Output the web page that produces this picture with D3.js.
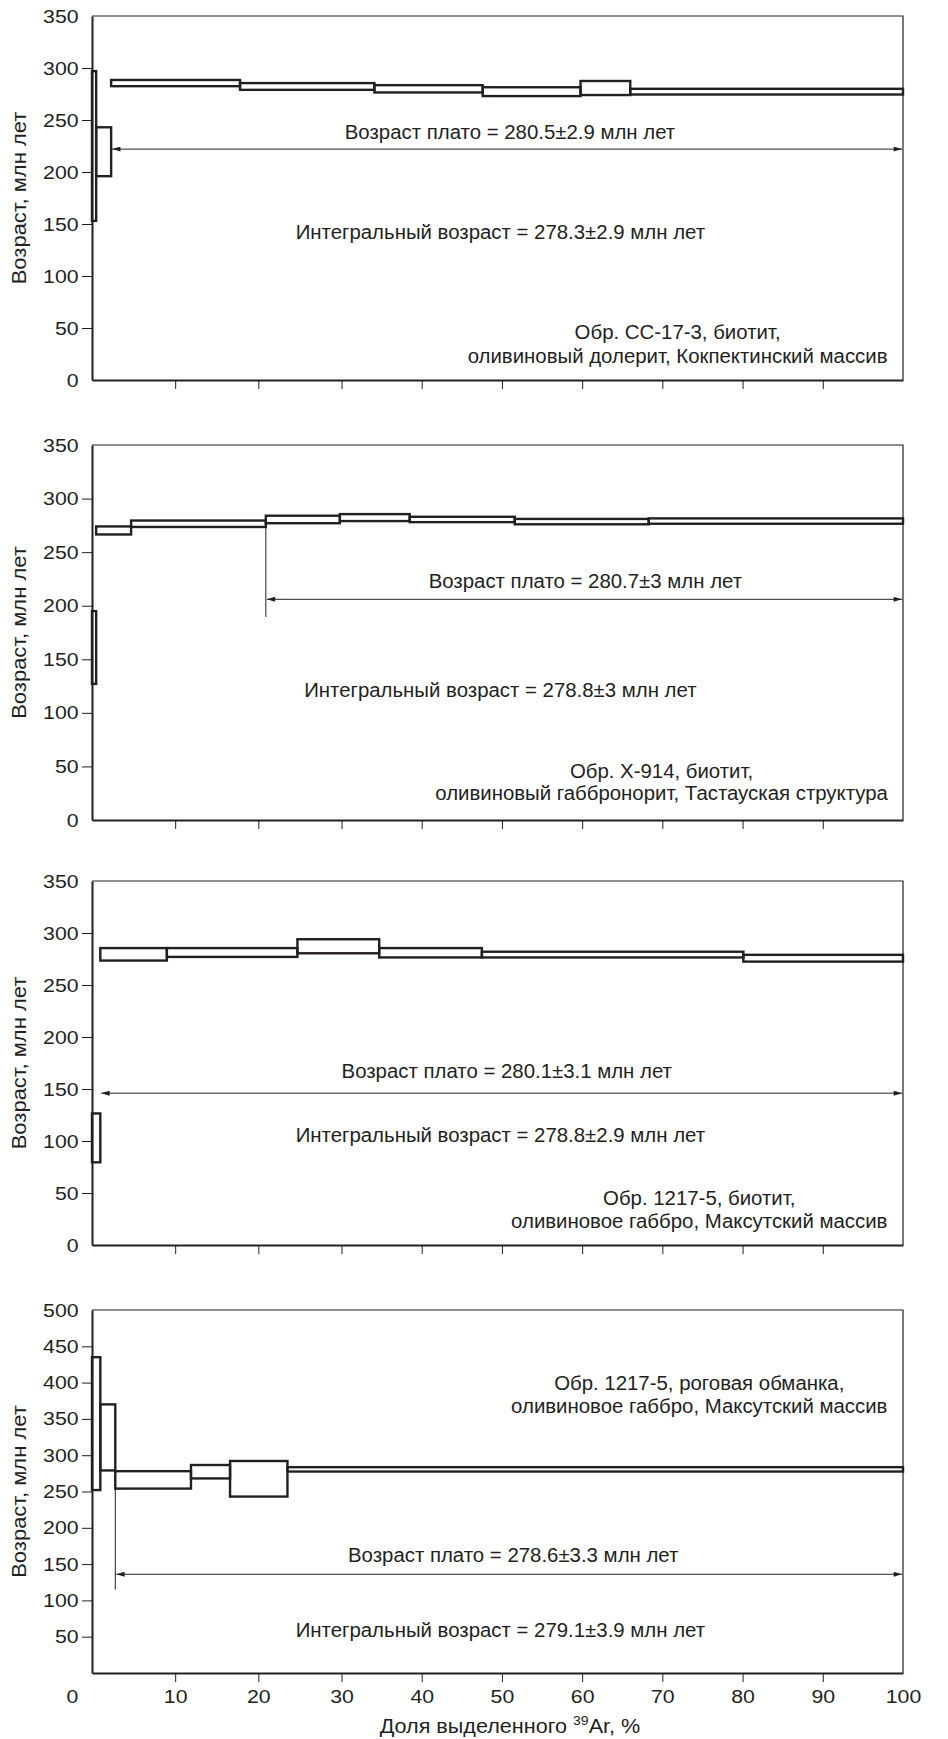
<!DOCTYPE html>
<html>
<head>
<meta charset="utf-8">
<script src="https://cdn.jsdelivr.net/npm/d3@7"></script>
<style>
  body { margin: 0; background: #fff; }
  text { font-family: "Liberation Sans", Arial, sans-serif; fill: #231f20; }
</style>
</head>
<body>
<div class="canvas"></div>
<script>
// step edges (% of 39Ar released) and upper / lower age of each step (Ma)
const edges1 = [0, 0.5, 2.3, 17.8, 34.1, 47.6, 59.8, 66.0, 100];
const hi1 = [297, 243, 288.5, 285.5, 283.5, 281.5, 287.5, 280];
const lo1 = [153, 196, 282.5, 279, 276.5, 273, 274, 274.5];

const edges2 = [0, 0.5, 4.7, 20.9, 29.8, 38.5, 51.6, 68.3, 100];
const hi2 = [195, 274, 279.5, 284, 285.5, 283, 281, 281.5];
const lo2 = [127, 266.5, 273.5, 277, 279, 278, 276, 276.5];

const edges3 = [0, 1.0, 9.0, 24.7, 34.7, 47.5, 80.1, 100];
const hi3 = [126.5, 285.5, 285.5, 294, 285.5, 282, 279];
const lo3 = [79.5, 273.5, 277, 280.5, 276.5, 276.5, 272.5];

const edges4 = [0, 1.0, 2.8, 11.9, 16.6, 23.5, 100];
const hi4 = [435, 370, 278, 286.5, 292, 283.5];
const lo4 = [252, 279, 254, 268, 243, 277.5];

// where the plateau starts (% 39Ar)
const plateauStart = [2.3, 20.9, 1.0, 2.8];

const plateauText = [
  'Возраст плато = 280.5±2.9 млн лет',
  'Возраст плато = 280.7±3 млн лет',
  'Возраст плато = 280.1±3.1 млн лет',
  'Возраст плато = 278.6±3.3 млн лет'
];
const integralText = [
  'Интегральный возраст = 278.3±2.9 млн лет',
  'Интегральный возраст = 278.8±3 млн лет',
  'Интегральный возраст = 278.8±2.9 млн лет',
  'Интегральный возраст = 279.1±3.9 млн лет'
];
const sampleText = [
  ['Обр. СС-17-3, биотит,', 'оливиновый долерит, Кокпектинский массив'],
  ['Обр. Х-914, биотит,', 'оливиновый габбронорит, Тастауская структура'],
  ['Обр. 1217-5, биотит,', 'оливиновое габбро, Максутский массив'],
  ['Обр. 1217-5, роговая обманка,', 'оливиновое габбро, Максутский массив']
];

const yTicks350 = [0, 50, 100, 150, 200, 250, 300, 350];
const yTicks500 = [50, 100, 150, 200, 250, 300, 350, 400, 450, 500];
const xTicks = [0, 10, 20, 30, 40, 50, 60, 70, 80, 90, 100];

const yTitle = 'Возраст, млн лет';

const width = 948, height = 1739;
const ink = '#231f20';
const SX = 1.02;     // notes
const SX_TICK = 1.12; // tick numbers are drawn a bit wide

//append svg to the canvas
const svg = d3.select('.canvas')
  .append('svg')
   .attr('width', width)
   .attr('height', height);

const defs = svg.append('defs');
defs.append('marker')
  .attr('id', 'arrow')
  .attr('viewBox', '0 0 10 6')
  .attr('refX', 10).attr('refY', 3)
  .attr('markerWidth', 10).attr('markerHeight', 5)
  .attr('markerUnits', 'userSpaceOnUse')
  .attr('orient', 'auto-start-reverse')
 .append('path')
  .attr('d', 'M0,0L10,3L0,6z')
  .attr('fill', ink);

// the printed x axis is not quite linear
const x = d3.scaleLinear().domain([0, 30, 100]).range([92, 341.5, 903]);

// layout: pixel extents and where the annotations sit (in data units)
const panels = [
  { top: 16, bottom: 380, yMax: 350, yTicks: yTicks350, edges: edges1, hi: hi1, lo: lo1,
    arrowAge: 222, drop: null, plateauAt: [51, 231.5], integralAt: [49.8, 135.5], sampleAt: [71.9, 39.4, 16.3] },
  { top: 445, bottom: 820, yMax: 350, yTicks: yTicks350, edges: edges2, hi: hi2, lo: lo2,
    arrowAge: 206, drop: [273.5, 189.5], plateauAt: [60.4, 216.5], integralAt: [49.8, 115], sampleAt: [69.9, 39.2, 18.7] },
  { top: 881, bottom: 1245, yMax: 350, yTicks: yTicks350, edges: edges3, hi: hi3, lo: lo3,
    arrowAge: 146, drop: null, plateauAt: [50.6, 160.6], integralAt: [49.8, 99.3], sampleAt: [74.6, 38.5, 16.3] },
  { top: 1310, bottom: 1673, yMax: 500, yTicks: yTicks500, edges: edges4, hi: hi4, lo: lo4,
    arrowAge: 136, drop: [279, 115], plateauAt: [51.4, 153.3], integralAt: [49.8, 50], sampleAt: [74.6, 389.8, 357.7] }
];

function note(g, str, px, py) {
  g.append('text')
    .attr('transform', `translate(${px},${py}) scale(${SX},1)`)
    .attr('text-anchor', 'middle')
    .style('font-size', '20px')
    .text(str);
}

panels.forEach((p, k) => {
  const last = k === panels.length - 1;
  const g = svg.append('g');

  const y = d3.scaleLinear()
    .domain([0, p.yMax])
    .range([p.bottom, p.top]);

  //thin frame on top and right
  g.append('path')
    .attr('d', `M${x(0)},${y(p.yMax)}H${x(100)}V${y(0)}`)
    .attr('fill', 'none')
    .attr('stroke', ink)
    .attr('stroke-width', 1.2);

  //steps of the age spectrum
  const steps = p.hi.map((h, i) => ({ x0: p.edges[i], x1: p.edges[i + 1], hi: h, lo: p.lo[i] }));
  g.selectAll('rect.step')
    .data(steps)
    .enter()
    .append('rect')
     .attr('class', 'step')
     .attr('x', d => x(d.x0))
     .attr('width', d => x(d.x1) - x(d.x0))
     .attr('y', d => y(d.hi))
     .attr('height', d => y(d.lo) - y(d.hi))
     .attr('fill', 'none')
     .attr('stroke', ink)
     .attr('stroke-width', 2.4);

  //plateau arrow
  const x0 = plateauStart[k];
  if (p.drop) {
    g.append('line')
      .attr('x1', x(x0)).attr('x2', x(x0))
      .attr('y1', y(p.drop[0])).attr('y2', y(p.drop[1]))
      .attr('stroke', ink)
      .attr('stroke-width', 1);
  }
  g.append('line')
    .attr('x1', x(x0) + 1).attr('x2', x(100) - 1)
    .attr('y1', y(p.arrowAge)).attr('y2', y(p.arrowAge))
    .attr('stroke', ink)
    .attr('stroke-width', 1)
    .attr('marker-start', 'url(#arrow)')
    .attr('marker-end', 'url(#arrow)');

  //axes
  const yAxis = d3.axisLeft(y)
    .tickValues(p.yTicks)
    .tickSize(10)
    .tickPadding(2)
    .tickSizeOuter(0);
  const yAxisGroup = g.append('g')
    .attr('transform', `translate(${x(0)},0)`)
    .attr('color', ink)
    .call(yAxis);
  yAxisGroup.select('.domain').attr('stroke-width', 2);
  yAxisGroup.selectAll('.tick line')
    .filter(d => d === 0 || d === p.yMax)
    .remove();
  yAxisGroup.selectAll('text')
    .attr('transform', `scale(${SX_TICK},1)`)
    .style('font-size', '19px');

  const xAxis = d3.axisBottom(x)
    .tickValues(last ? xTicks : xTicks.slice(1, -1))
    .tickSize(9)
    .tickSizeOuter(0)
    .tickFormat(last ? d3.format('d') : '');
  const xAxisGroup = g.append('g')
    .attr('transform', `translate(0,${y(0)})`)
    .attr('color', ink)
    .call(xAxis);
  xAxisGroup.select('.domain').attr('stroke-width', 2);
  if (last) {
    xAxisGroup.selectAll('.tick line')
      .filter(d => d === 0 || d === 100)
      .remove();
    xAxisGroup.selectAll('text')
      .attr('y', 30)
      .attr('dy', 0)
      .attr('dx', d => d === 0 ? -18 : 0)
      .attr('transform', `scale(${SX_TICK},1)`)
      .style('font-size', '19px');
  }

  //axis title
  g.append('text')
    .attr('transform', `translate(26,${(p.top + p.bottom) / 2}) rotate(-90) scale(1.1,1)`)
    .attr('text-anchor', 'middle')
    .style('font-size', '20px')
    .text(yTitle);

  //annotations
  note(g, plateauText[k], x(p.plateauAt[0]), y(p.plateauAt[1]));
  note(g, integralText[k], x(p.integralAt[0]), y(p.integralAt[1]));
  note(g, sampleText[k][0], x(p.sampleAt[0]), y(p.sampleAt[1]));
  note(g, sampleText[k][1], x(p.sampleAt[0]), y(p.sampleAt[2]));
});

//x title with superscript
const xTitle = svg.append('text')
  .attr('transform', `translate(${x(51)},1733) scale(1.08,1)`)
  .attr('text-anchor', 'middle')
  .style('font-size', '20px');
xTitle.append('tspan').text('Доля выделенного ');
xTitle.append('tspan').attr('dy', -8).style('font-size', '13px').text('39');
xTitle.append('tspan').attr('dy', 8).text('Ar, %');
</script>
</body>
</html>
